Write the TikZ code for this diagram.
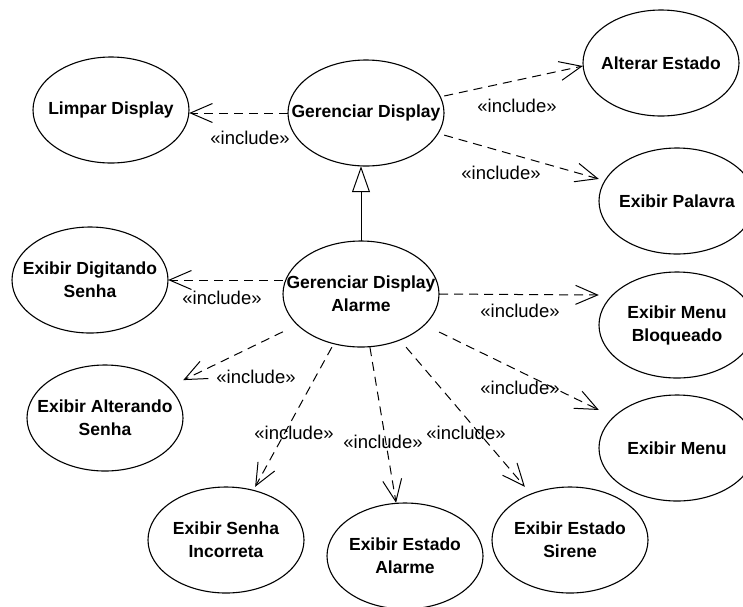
\documentclass[tikz,border=0pt]{standalone}
\usepackage{fontspec}
\setmainfont{Liberation Sans}
\usetikzlibrary{arrows.meta}

\begin{document}
\begin{tikzpicture}[x=1pt, y=-1pt,
  usecase/.style={rectangle, minimum width=156pt, minimum height=106pt, inner sep=0pt,
    align=center, font=\fontsize{17.5}{23}\selectfont\bfseries},
  incl/.style={line width=1pt, dash pattern=on 9pt off 6pt,
    -{Straight Barb[length=22pt, width=19pt, line width=1pt]}},
  rotulo/.style={inner sep=0pt, font=\fontsize{18.5}{22}\selectfont},
  heranca/.style={line width=1pt, -{Triangle[open, length=26pt, width=18pt, fill=white]}}]
  \useasboundingbox (0,0) rectangle (743,606);
  % Casos de uso (caixas invisiveis, o contorno vem depois)
  \node[usecase] (gd)   at (366,113) {Gerenciar Display};
  \node[usecase] (lim)  at (111,110) {Limpar Display};
  \node[usecase] (alt)  at (661,63)  {Alterar Estado};
  \node[usecase] (pal)  at (677,201) {Exibir Palavra};
  \node[usecase] (gda)  at (361,294) {Gerenciar Display\\Alarme};
  \node[usecase] (dig)  at (90,280)  {Exibir Digitando\\Senha};
  \node[usecase] (mbl)  at (677,325) {Exibir Menu\\Bloqueado};
  \node[usecase] (alts) at (105,418) {Exibir Alterando\\Senha};
  \node[usecase] (men)  at (677,448) {Exibir Menu};
  \node[usecase] (inc)  at (226,540) {Exibir Senha\\Incorreta};
  \node[usecase] (esa)  at (405,556) {Exibir Estado\\Alarme};
  \node[usecase] (ess)  at (570,540) {Exibir Estado\\Sirene};
  % Contornos elipticos
  \foreach \uc in {gd,lim,alt,pal,gda,dig,mbl,alts,men,inc,esa,ess}
    \draw[line width=1.1pt] (\uc.center) ellipse [x radius=78pt, y radius=53pt];
  % Generalizacao
  \draw[heranca] (gda.north) -- (gda.north |- gd.south);
  % Relacoes include de Gerenciar Display
  \draw[incl] (gd.west) -- (gd.west -| lim.east);
  \draw[incl] ([yshift=17pt]gd.east) -- ([yshift=-3pt]alt.west);
  \draw[incl] (gd) -- (pal);
  % Relacoes include de Gerenciar Display Alarme
  \draw[incl] ([yshift=14pt]gda.west) -- (dig.east);
  \draw[incl] (gda.east) -- ([yshift=30pt]mbl.west);
  \draw[incl] (gda) -- (alts);
  \draw[incl] (gda) -- (inc);
  \draw[incl] (gda) -- (esa);
  \draw[incl] (gda) -- (ess);
  \draw[incl] (gda) -- (men);
  % Estereotipos
  \node[rotulo] (i1)  at (250,138) {«include»};
  \node[rotulo] (i2)  at (517,106) {«include»};
  \node[rotulo] (i3)  at (501,173) {«include»};
  \node[rotulo] (i4)  at (222,298) {«include»};
  \node[rotulo] (i5)  at (520,311) {«include»};
  \node[rotulo] (i6)  at (256,377) {«include»};
  \node[rotulo] (i7)  at (294,433) {«include»};
  \node[rotulo] (i8)  at (383,442) {«include»};
  \node[rotulo] (i9)  at (466,433) {«include»};
  \node[rotulo] (i10) at (520,388) {«include»};
\end{tikzpicture}
\end{document}
